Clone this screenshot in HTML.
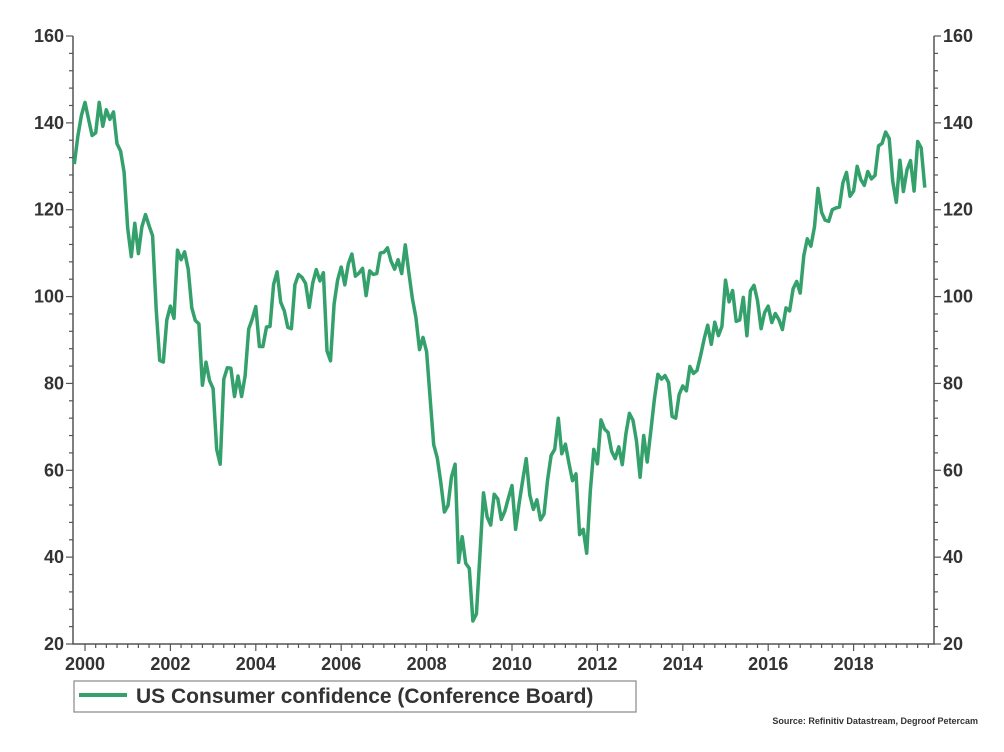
<!DOCTYPE html>
<html><head><meta charset="utf-8"><style>
body{margin:0;background:#fff;}
svg text{font-family:"Liberation Sans",Arial,sans-serif;fill:#333;}
</style></head><body>
<svg id="c" width="1004" height="747"></svg>
<script>
const startYear = 1999.75;
const yearLabels = ["2000","2002","2004","2006","2008","2010","2012","2014","2016","2018"];
const yTicks = [20,40,60,80,100,120,140,160];
const values = [130.5,137,141.7,
144.7,140.8,137.1,137.7,144.7,139.2,143.0,140.8,142.5,135.2,133.5,128.6,
115.7,109.2,116.9,109.9,116.1,118.9,116.3,114.0,97.0,85.3,84.9,94.6,
97.8,95.0,110.7,108.5,110.3,106.3,97.4,94.5,93.7,79.6,84.9,80.7,
78.8,64.8,61.4,81.0,83.6,83.5,77.0,81.7,77.0,81.7,92.5,94.8,
97.7,88.5,88.5,93.0,93.1,102.8,105.7,98.7,96.7,92.9,92.6,102.7,
105.1,104.4,103.0,97.5,103.1,106.2,103.6,105.5,87.5,85.2,98.3,103.8,
106.8,102.7,107.5,109.8,104.7,105.4,106.5,100.2,105.9,105.1,105.3,110.0,
110.2,111.2,108.2,106.3,108.5,105.3,111.9,105.6,99.5,95.2,87.8,90.6,
87.3,76.4,65.9,62.8,57.2,50.4,51.9,58.5,61.4,38.8,44.7,38.6,
37.4,25.3,26.9,40.8,54.8,49.3,47.4,54.5,53.4,48.7,50.6,53.6,
56.5,46.4,52.3,57.7,62.7,54.3,51.0,53.2,48.6,49.9,57.8,63.4,
64.8,72.0,63.8,66.0,61.7,57.6,59.2,45.2,46.4,40.9,55.2,64.8,
61.5,71.6,69.5,68.7,64.4,62.7,65.4,61.3,68.4,73.1,71.5,66.7,
58.4,68.0,61.9,69.0,76.2,82.1,81.0,81.8,80.2,72.4,72.0,77.5,
79.4,78.3,83.9,82.3,83.0,86.4,90.3,93.4,89.0,94.1,91.0,93.1,
103.8,98.8,101.4,94.3,94.6,99.8,91.0,101.3,102.6,99.1,92.6,96.3,
97.8,94.0,96.1,94.7,92.4,97.4,96.7,101.8,103.5,100.8,109.4,113.3,
111.6,116.1,124.9,119.4,117.6,117.3,120.0,120.4,120.6,126.2,128.6,123.1,
124.3,130.0,127.0,125.6,128.8,127.1,127.9,134.7,135.3,137.9,136.4,126.6,
121.7,131.4,124.2,129.2,131.3,124.3,135.7,134.2,125.1];

const NS="http://www.w3.org/2000/svg";
const svg=document.getElementById('c');
const L=73,R=934,T=36,B=644;
const xs=t=>85+(t-2000)*42.7;
const ys=v=>B-(v-20)*(B-T)/140;
function mk(tag,attrs,parent){const e=document.createElementNS(NS,tag);for(const k in attrs)e.setAttribute(k,attrs[k]);(parent||svg).appendChild(e);return e;}

let a=mk('path',{d:`M${L},${T}V${B}H${R}V${T}`,stroke:'#555','stroke-width':1.5,fill:'none'});


for(let v=20;v<=160;v+=4){
  const y=ys(v), major=(v%20===0);
  const w=major?7:4;
  mk('line',{x1:L-w,x2:L,y1:y,y2:y,stroke:'#555','stroke-width':1.2});
  mk('line',{x1:R,x2:R+w,y1:y,y2:y,stroke:'#555','stroke-width':1.2});
}
yTicks.forEach(v=>{
  const y=ys(v);
  let t=mk('text',{x:L-9,y:y+6,'text-anchor':'end','font-size':18,'font-weight':'bold'});t.textContent=v;
  
  
  t=mk('text',{x:R+9,y:y+6,'text-anchor':'start','font-size':18,'font-weight':'bold'});t.textContent=v;
  
  
});
for(let t=2000;t<=2019.75;t+=0.25){
  const x=xs(t); if(x<L||x>R)continue;
  const major=Math.abs(t-Math.round(t))<1e-6 && Math.round(t)%2===0;
  mk('line',{x1:x,x2:x,y1:B,y2:B+(major?7:4),stroke:'#555','stroke-width':1.2});
}
yearLabels.forEach(s=>{
  const t=mk('text',{x:xs(+s),y:B+26,'text-anchor':'middle','font-size':18,'font-weight':'bold'});t.textContent=s;
  
  
});
const pts=values.map((v,i)=>`${xs(startYear+i/12).toFixed(1)},${ys(v).toFixed(1)}`).join(' ');
const line=mk('polyline',{points:pts,fill:'none',stroke:'#34a06b','stroke-width':3.5,'stroke-linejoin':'round'});


const lg=mk('g',{});


mk('rect',{x:74,y:681,width:562,height:31,fill:'#fff',stroke:'#888','stroke-width':1.2},lg);
mk('line',{x1:79,x2:127,y1:695,y2:695,stroke:'#34a06b','stroke-width':4},lg);
let lt=mk('text',{x:136,y:703,'font-size':21,'font-weight':'bold'},lg);lt.textContent='US Consumer confidence (Conference Board)';


let src=mk('text',{x:978,y:724,'text-anchor':'end','font-size':9,'font-weight':'bold'});src.textContent='Source: Refinitiv Datastream, Degroof Petercam';


</script>
</body></html>
